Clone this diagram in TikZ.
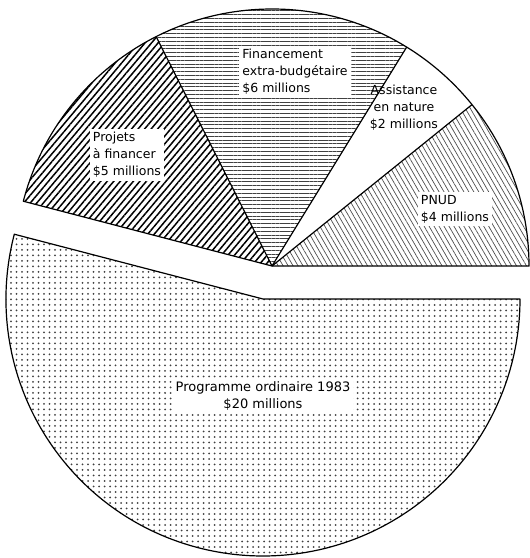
\documentclass[tikz,border=0pt]{standalone}
\usepackage{fontspec}
\setmainfont{DejaVu Sans}
\usetikzlibrary{patterns.meta}

\begin{document}
\begin{tikzpicture}[x=1pt,y=1pt,
	lab/.style={fill=white,inner sep=3pt,font=\fontsize{12.5}{17}\selectfont},
	edge/.style={draw=black,line width=1.2pt,line join=round}]
\useasboundingbox (0,0) rectangle (530,-558);
\coordinate (o) at (272,-266);
\coordinate (p) at (263,-299);
% top part of the pie
\fill [pattern={Lines[angle=-60,distance=4.3pt,line width=0.7pt]},pattern color=black!70] (o) -- ++(0:257) arc (0:38.9:257) -- cycle;
\fill [pattern={Lines[angle=0,distance=3.8pt,line width=0.9pt]},pattern color=black!75] (o) -- ++(58.4:257) arc (58.4:116.8:257) -- cycle;
\fill [pattern={Lines[angle=50,distance=5pt,line width=1.5pt]},pattern color=black] (o) -- ++(116.8:257) arc (116.8:165.4:257) -- cycle;
\draw [edge] (o) -- ++(0:257) arc (0:165.4:257) -- cycle;
\draw [edge] (o) -- ++(38.9:257);
\draw [edge] (o) -- ++(58.4:257);
\draw [edge] (o) -- ++(116.8:257);
% exploded slice
\fill [pattern={Dots[distance=5.5pt,radius=1pt]},pattern color=black!75] (p) -- ++(165.4:257) arc (165.4:360:257) -- cycle;
\draw [edge] (p) -- ++(165.4:257) arc (165.4:360:257) -- cycle;
% labels
\node [lab,align=left] (fin) at (295,-72) {Financement\\extra-budgétaire\\\$6 millions};
\node [lab,align=center,fill=none] (ass) at (404,-108) {Assistance\\en nature\\\$2 millions};
\node [lab,align=left] (proj) at (127,-155) {Projets\\à financer\\\$5 millions};
\node [lab,align=left] (pnud) at (455,-209) {PNUD\\\$4 millions};
\node [lab,align=center,font=\fontsize{13}{17}\selectfont] (prog) at (263,-396) {Programme ordinaire 1983\\\$20 millions};
\end{tikzpicture}
\end{document}
